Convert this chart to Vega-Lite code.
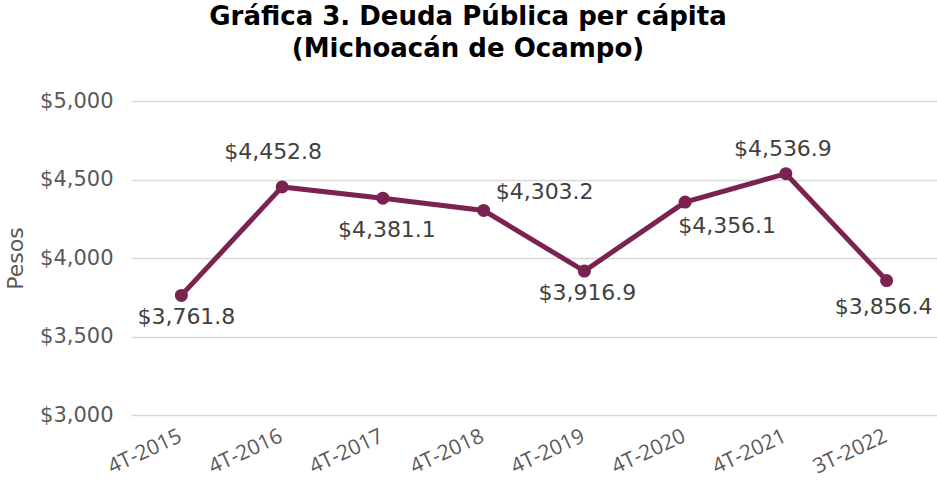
{
  "$schema": "https://vega.github.io/schema/vega-lite/v6.json",
  "width": 806,
  "height": 314,
  "autosize": {"type": "none"},
  "padding": {"left": 131, "top": 101, "right": 0, "bottom": 66},
  "background": "white",
  "config": {
    "font": "DejaVu Sans",
    "view": {"stroke": null}
  },
  "title": {
    "text": ["Gráfica 3. Deuda Pública per cápita", "(Michoacán de Ocampo)"],
    "font": "DejaVu Sans",
    "fontSize": 26,
    "fontWeight": "bold",
    "color": "#000000",
    "anchor": "middle",
    "dx": -66,
    "offset": 28,
    "lineHeight": 32
  },
  "data": {
    "values": [
      {"periodo": "4T-2015", "valor": 3761.8},
      {"periodo": "4T-2016", "valor": 4452.8},
      {"periodo": "4T-2017", "valor": 4381.1},
      {"periodo": "4T-2018", "valor": 4303.2},
      {"periodo": "4T-2019", "valor": 3916.9},
      {"periodo": "4T-2020", "valor": 4356.1},
      {"periodo": "4T-2021", "valor": 4536.9},
      {"periodo": "3T-2022", "valor": 3856.4}
    ]
  },
  "encoding": {
    "x": {
      "field": "periodo",
      "type": "ordinal",
      "sort": null,
      "scale": {"type": "point", "padding": 0.5},
      "axis": {
        "title": null,
        "labelAngle": -25,
        "labelAlign": "right",
        "labelBaseline": "top",
        "labelFont": "Open Sans",
        "labelFontSize": 21,
        "labelColor": "#595959",
        "labelPadding": 10,
        "labelOffset": -6,
        "domain": false,
        "ticks": false
      }
    },
    "y": {
      "field": "valor",
      "type": "quantitative",
      "scale": {"domain": [3000, 5000], "nice": false, "zero": false},
      "axis": {
        "title": "Pesos",
        "titleFontSize": 22,
        "titleFontWeight": "normal",
        "titleColor": "#595959",
        "titlePadding": 12,
        "values": [3000, 3500, 4000, 4500, 5000],
        "format": "$,.0f",
        "labelFontSize": 21,
        "labelColor": "#595959",
        "labelPadding": 18,
        "domain": false,
        "ticks": false,
        "grid": true,
        "gridColor": "#d9d9d9",
        "gridWidth": 1.5
      }
    }
  },
  "layer": [
    {"mark": {"type": "line", "color": "#7B2350", "strokeWidth": 5}},
    {"mark": {"type": "point", "filled": true, "color": "#7B2350", "size": 170, "opacity": 1}},
    {"transform": [{"filter": "datum.periodo == '4T-2015'"}], "mark": {"type": "text", "fontSize": 22, "color": "#404040", "dx": 5, "dy": 22}, "encoding": {"text": {"field": "valor", "format": "$,.1f"}}},
    {"transform": [{"filter": "datum.periodo == '4T-2016'"}], "mark": {"type": "text", "fontSize": 22, "color": "#404040", "dx": -9, "dy": -35}, "encoding": {"text": {"field": "valor", "format": "$,.1f"}}},
    {"transform": [{"filter": "datum.periodo == '4T-2017'"}], "mark": {"type": "text", "fontSize": 22, "color": "#404040", "dx": 4, "dy": 32}, "encoding": {"text": {"field": "valor", "format": "$,.1f"}}},
    {"transform": [{"filter": "datum.periodo == '4T-2018'"}], "mark": {"type": "text", "fontSize": 22, "color": "#404040", "dx": 61, "dy": -18}, "encoding": {"text": {"field": "valor", "format": "$,.1f"}}},
    {"transform": [{"filter": "datum.periodo == '4T-2019'"}], "mark": {"type": "text", "fontSize": 22, "color": "#404040", "dx": 3, "dy": 22}, "encoding": {"text": {"field": "valor", "format": "$,.1f"}}},
    {"transform": [{"filter": "datum.periodo == '4T-2020'"}], "mark": {"type": "text", "fontSize": 22, "color": "#404040", "dx": 42, "dy": 24}, "encoding": {"text": {"field": "valor", "format": "$,.1f"}}},
    {"transform": [{"filter": "datum.periodo == '4T-2021'"}], "mark": {"type": "text", "fontSize": 22, "color": "#404040", "dx": -3, "dy": -25}, "encoding": {"text": {"field": "valor", "format": "$,.1f"}}},
    {"transform": [{"filter": "datum.periodo == '3T-2022'"}], "mark": {"type": "text", "fontSize": 22, "color": "#404040", "dx": -3, "dy": 26}, "encoding": {"text": {"field": "valor", "format": "$,.1f"}}}
  ]
}
